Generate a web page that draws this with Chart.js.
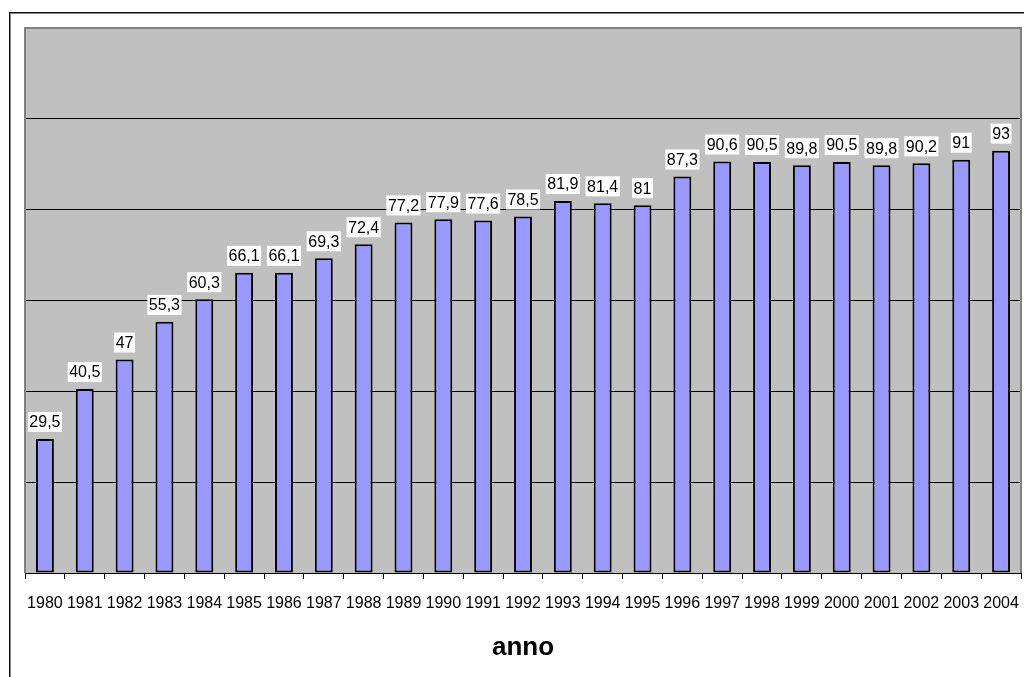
<!DOCTYPE html>
<html>
<head>
<meta charset="utf-8">
<script src="https://cdn.jsdelivr.net/npm/chart.js@4"></script>
<style>
  html, body { margin: 0; padding: 0; background: #fff; }
  canvas { display: block; }
</style>
</head>
<body>
<canvas id="myChart" width="1024" height="677"></canvas>
<script>
const anni = ["1980","1981","1982","1983","1984","1985","1986","1987","1988","1989","1990","1991","1992",
              "1993","1994","1995","1996","1997","1998","1999","2000","2001","2002","2003","2004"];
const valori = [29.5, 40.5, 47, 55.3, 60.3, 66.1, 66.1, 69.3, 72.4, 77.2, 77.9, 77.6, 78.5,
                81.9, 81.4, 81, 87.3, 90.6, 90.5, 89.8, 90.5, 89.8, 90.2, 91, 93];
const asseY = { min: 0, max: 120, step: 20 };

const font = "'Liberation Sans', Arial, sans-serif";

// sfondo, cornice esterna e area del grafico grigia
const sfondo = {
    id: 'sfondo',
    beforeDraw(chart) {
        const ctx = chart.ctx;
        const a = chart.chartArea;
        ctx.save();
        ctx.fillStyle = '#fff';
        ctx.fillRect(0, 0, chart.width, chart.height);
        ctx.strokeStyle = '#111';
        ctx.lineWidth = 1.5;
        ctx.beginPath();
        ctx.moveTo(9.75, chart.height + 2);
        ctx.lineTo(9.75, 12.75);
        ctx.lineTo(chart.width + 2, 12.75);
        ctx.stroke();
        ctx.fillStyle = '#C0C0C0';
        ctx.fillRect(a.left, a.top, a.right - a.left, a.bottom - a.top);
        ctx.restore();
    },
    beforeDatasetsDraw(chart) {
        const ctx = chart.ctx;
        const a = chart.chartArea;
        ctx.save();
        ctx.strokeStyle = '#808080';
        ctx.lineWidth = 2;
        ctx.beginPath();
        ctx.moveTo(a.left, a.bottom);
        ctx.lineTo(a.left, a.top);
        ctx.lineTo(a.right, a.top);
        ctx.lineTo(a.right, a.bottom);
        ctx.stroke();
        ctx.restore();
    }
};

// etichette dei valori con fondo bianco
const etichette = {
    id: 'etichette',
    afterDatasetsDraw(chart) {
        const ctx = chart.ctx;
        const meta = chart.getDatasetMeta(0);
        ctx.save();
        ctx.font = '16px ' + font;
        ctx.textAlign = 'center';
        ctx.textBaseline = 'middle';
        meta.data.forEach((bar, i) => {
            const testo = String(valori[i]).replace('.', ',');
            const w = ctx.measureText(testo).width + 3;
            ctx.fillStyle = '#fff';
            ctx.fillRect(bar.x - w / 2, bar.y - 27, w, 20);
            ctx.fillStyle = '#000';
            ctx.fillText(testo, bar.x, bar.y - 16);
        });
        ctx.restore();
    }
};

const ctx = document.getElementById("myChart");

new Chart(ctx, {
    type: 'bar',
    data: {
        labels: anni,
        datasets: [{
            data: valori,
            backgroundColor: '#9999FF',
            borderColor: '#000',
            borderWidth: 2,
            borderSkipped: false,
            categoryPercentage: 1,
            barPercentage: 0.45
        }]
    },
    options: {
        responsive: false,
        animation: false,
        layout: { padding: { left: 25, top: 28, right: 3, bottom: 0 } },
        plugins: {
            legend: { display: false },
            tooltip: { enabled: false }
        },
        scales: {
            x: {
                grid: {
                    drawOnChartArea: false,
                    drawTicks: true,
                    tickLength: 6,
                    color: '#000',
                    offset: true
                },
                border: { color: '#000', width: 1 },
                ticks: {
                    color: '#000',
                    font: { family: font, size: 16 },
                    padding: 15,
                    maxRotation: 0,
                    autoSkip: false
                },
                title: {
                    display: true,
                    text: 'anno',
                    color: '#000',
                    font: { family: font, size: 26, weight: 'bold' },
                    padding: { top: 0, bottom: 14 }
                },
                afterFit(scale) {
                    scale.height = 104;
                    scale.paddingLeft = 0;
                    scale.paddingRight = 0;
                }
            },
            y: {
                min: asseY.min,
                max: asseY.max,
                ticks: { display: false, stepSize: asseY.step },
                grid: { color: '#000', lineWidth: 1, drawTicks: false, tickLength: 0 },
                border: { display: false }
            }
        }
    },
    plugins: [sfondo, etichette]
});
</script>
</body>
</html>
